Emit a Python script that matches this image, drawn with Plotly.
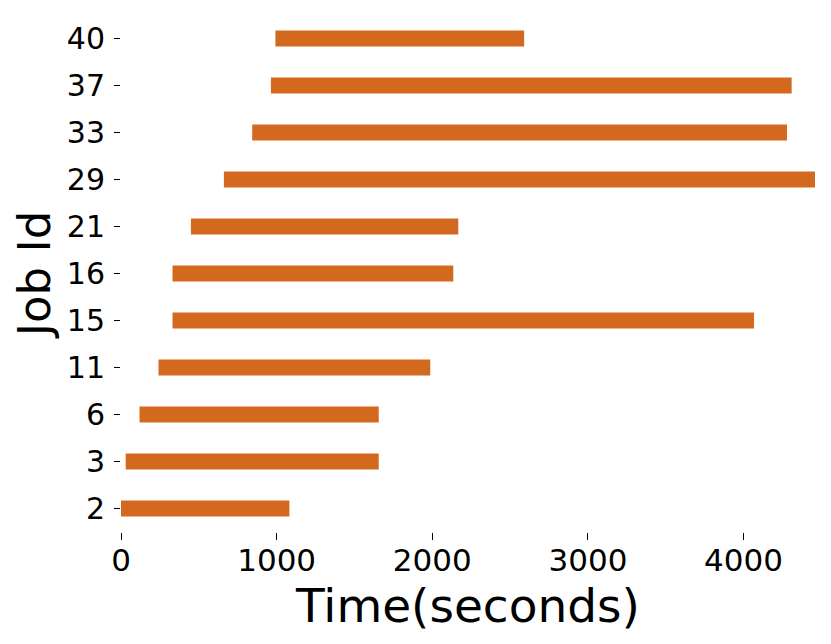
import plotly.graph_objects as go

# Job ids (bottom to top) with start / end times
job_ids = ["2", "3", "6", "11", "15", "16", "21", "29", "33", "37", "40"]
start_time = [0, 30, 119, 241, 331, 331, 449, 661, 843, 963, 992]
end_time = [1082, 1656, 1656, 1987, 4067, 2135, 2167, 4459, 4279, 4309, 2590]

durations = [e - s for s, e in zip(start_time, end_time)]

fig = go.Figure()
fig.add_trace(go.Bar(
    y=job_ids,
    x=durations,
    base=start_time,
    orientation="h",
    width=0.34,
    marker=dict(color="#D2691E", line=dict(width=0)),
    showlegend=False,
))

# the page body adds an 8px offset, so the figure is a bit smaller than the window
fig.update_layout(
    width=823,
    height=636,
    plot_bgcolor="white",
    paper_bgcolor="white",
    font=dict(family="DejaVu Sans", color="black"),
    margin=dict(l=113, r=16, t=6.5, b=111.5),
    xaxis=dict(
        range=[0, 4459],
        tickvals=[0, 1000, 2000, 3000, 4000],
        ticks="outside",
        ticklen=7,
        tickwidth=1,
        tickcolor="black",
        tickfont=dict(size=31),
        ticklabelstandoff=-6,
        showgrid=False,
        zeroline=False,
        showline=False,
        automargin=False,
        title=dict(text="Time(seconds)", font=dict(size=47), standoff=0),
    ),
    yaxis=dict(
        type="category",
        categoryorder="array",
        categoryarray=job_ids,
        range=[-0.5, 10.5],
        ticks="outside",
        ticklen=6,
        tickwidth=1,
        tickcolor="black",
        tickfont=dict(size=30),
        ticklabelstandoff=3,
        showgrid=False,
        zeroline=False,
        showline=False,
        automargin=False,
        title=dict(text="Job Id", font=dict(size=45), standoff=6),
    ),
)

fig.write_html("out.html")
